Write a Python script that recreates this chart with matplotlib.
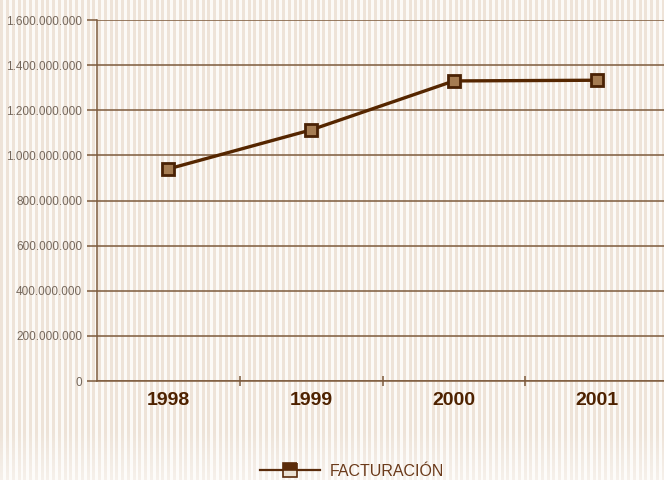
import numpy as np
import matplotlib
matplotlib.use("Agg")
import matplotlib.pyplot as plt
from matplotlib.lines import Line2D
from matplotlib.ticker import FuncFormatter

years = ["1998", "1999", "2000", "2001"]
facturacion = [940_000_000, 1_113_000_000, 1_330_000_000, 1_333_000_000]
series_name = "FACTURACIÓN"
yticks = [0, 200_000_000, 400_000_000, 600_000_000, 800_000_000,
          1_000_000_000, 1_200_000_000, 1_400_000_000, 1_600_000_000]

W, H = 664, 480
fig = plt.figure(figsize=(W / 100, H / 100), dpi=100)

# striped background
bg = fig.add_axes([0, 0, 1, 1], zorder=-10)
xs = np.arange(W)
stripe = ((xs % 5.75) < 2.9).astype(float)
c1 = np.array([0xee, 0xe3, 0xd8]) / 255.0
c2 = np.array([0xfc, 0xfa, 0xf7]) / 255.0
row = stripe[:, None] * c1 + (1 - stripe[:, None]) * c2
img = np.tile(row[None, :, :], (H, 1, 1))
ys = np.arange(H)
fade = np.clip((ys - 430) / 50.0, 0, 1)[:, None, None] * 0.5
img = img * (1 - fade) + fade * 1.0
bg.imshow(img, aspect="auto", interpolation="nearest")
bg.axis("off")

grid_c = "#7d5a3c"
ax = fig.add_axes([97 / W, (H - 381) / H, (668 - 97) / W, (381 - 20) / H])
ax.set_facecolor("none")
x = np.arange(len(years))
ax.plot(x, facturacion, color="#552600", lw=2.4, marker="s", ms=9,
        mfc="#a57c52", mec="#4a2205", mew=2.0, zorder=5, clip_on=False)

ax.set_xlim(-0.5, len(years) - 0.5)
ax.set_ylim(0, 1_600_000_000)
ax.set_yticks(yticks)
ax.yaxis.set_major_formatter(FuncFormatter(lambda v, p: f"{int(v):,}".replace(",", ".")))
ax.grid(axis="y", color=grid_c, lw=1.1)
ax.set_axisbelow(True)
for s in ["top", "right"]:
    ax.spines[s].set_visible(False)
for s in ["left", "bottom"]:
    ax.spines[s].set_color(grid_c)
    ax.spines[s].set_linewidth(1.1)
ax.tick_params(axis="y", length=7.2, width=1.1, color=grid_c, pad=3.6,
               labelsize=8.5, labelcolor="#76685c")
ax.set_xticks(x)
ax.set_xticklabels(years, fontsize=14, fontweight="bold", color="#4e2200")
ax.tick_params(axis="x", which="major", length=0, pad=8)
ax.set_xticks([0.5, 1.5, 2.5], minor=True)
ax.tick_params(axis="x", which="minor", direction="inout", length=7, width=1.1, color=grid_c)
for lab in ax.get_yticklabels():
    lab.set_family("Liberation Sans")
for lab in ax.get_xticklabels():
    lab.set_family("Liberation Sans")

handle = Line2D([], [], color="#5b2c0b", lw=1.6, marker="s", ms=9.5,
                fillstyle="top", mfc="#5b2c0b", markerfacecoloralt="#ece2d4",
                mec="#5b2c0b", mew=1.2)
leg = fig.legend([handle], [series_name], loc="center",
                 bbox_to_anchor=(0.530, (H - 471) / H), frameon=False,
                 handlelength=3.75, handletextpad=0.63,
                 prop={"family": "Liberation Sans", "size": 11.5})
for t in leg.get_texts():
    t.set_color("#6b3a1a")

fig.savefig("out.png", dpi=100)
